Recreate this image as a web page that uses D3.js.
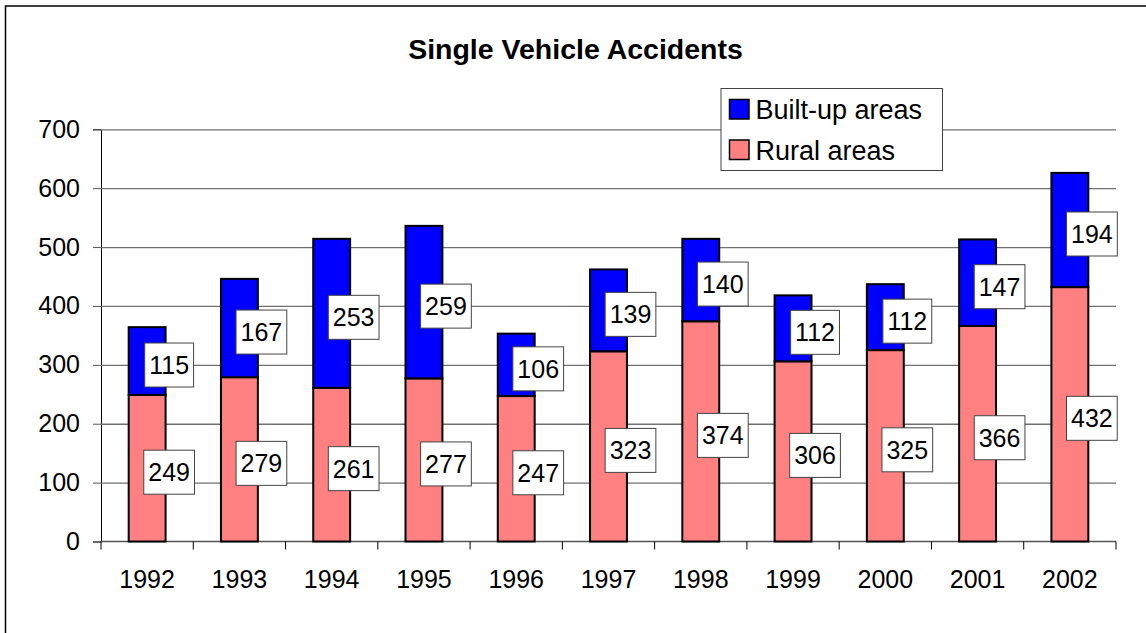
<!DOCTYPE html>
<html>
<head>
<meta charset="utf-8">
<script src="https://cdn.jsdelivr.net/npm/d3@7"></script>
<style>
  html, body { margin: 0; padding: 0; background: #fff; }
  svg { display: block; font-family: "Liberation Sans", Arial, sans-serif; }
</style>
</head>
<body>
<svg id="chart" width="1146" height="633"></svg>
<script>
const years = ["1992", "1993", "1994", "1995", "1996", "1997", "1998", "1999", "2000", "2001", "2002"];
const rural = [249, 279, 261, 277, 247, 323, 374, 306, 325, 366, 432];
const builtUp = [115, 167, 253, 259, 106, 139, 140, 112, 112, 147, 194];
const yTicks = [0, 100, 200, 300, 400, 500, 600, 700];

const seriesNames = ["Rural areas", "Built-up areas"];
const colors = { "Rural areas": "#ff8080", "Built-up areas": "#0000ff" };

const svg = d3.select("#chart");

// outer frame, runs off the right and bottom edges like the source
svg.append("rect")
  .attr("x", 5.5).attr("y", 6)
  .attr("width", 2000).attr("height", 2000)
  .attr("fill", "#fff").attr("stroke", "#000").attr("stroke-width", 1.5);

const plot = { left: 101, right: 1116, top: 129.3, bottom: 541.5 };

const x = d3.scaleBand().domain(years).range([plot.left, plot.right]).paddingInner(0).paddingOuter(0);
const y = d3.scaleLinear().domain([0, 700]).range([plot.bottom, plot.top]);

const rows = years.map((yr, i) => ({ year: yr, "Rural areas": rural[i], "Built-up areas": builtUp[i] }));
const stacked = d3.stack().keys(seriesNames)(rows);

// gridlines + y axis
const yAxis = d3.axisLeft(y).tickValues(yTicks).tickSize(8).tickPadding(13).tickFormat(d3.format("d"));
const gy = svg.append("g").attr("transform", `translate(${plot.left},0)`).call(yAxis);
gy.select(".domain").attr("stroke", "#000").attr("stroke-width", 1);
gy.selectAll(".tick line").attr("stroke", "#555");
gy.selectAll(".tick text").attr("font-size", 25).attr("fill", "#000")
  .attr("font-family", "Liberation Sans, Arial, sans-serif");

svg.append("g").selectAll("line").data(yTicks.filter((d) => d > 0)).join("line")
  .attr("x1", plot.left).attr("x2", plot.right)
  .attr("y1", (d) => y(d) + 0.5).attr("y2", (d) => y(d) + 0.5)
  .attr("stroke", "#707070").attr("stroke-width", 1.3);

// x axis with ticks at band edges
const gx = svg.append("g").attr("transform", `translate(0,${plot.bottom})`);
gx.append("line").attr("x1", plot.left).attr("x2", plot.right).attr("stroke", "#555").attr("stroke-width", 1.3);
const edges = years.map((d) => x(d)).concat([plot.right]);
gx.selectAll("line.edge").data(edges).join("line").attr("class", "edge")
  .attr("x1", (d) => d).attr("x2", (d) => d).attr("y1", 0).attr("y2", 8)
  .attr("stroke", "#000").attr("stroke-width", 1);
gx.selectAll("text").data(years).join("text")
  .attr("x", (d) => x(d) + x.bandwidth() / 2).attr("y", 46)
  .attr("text-anchor", "middle").attr("font-size", 25).text((d) => d);

// bars
const barW = x.bandwidth() * 0.4;
const barX = (yr) => x(yr) + (x.bandwidth() - barW) / 2;
const layers = svg.append("g").selectAll("g").data(stacked).join("g")
  .attr("fill", (s) => colors[s.key]);
layers.selectAll("rect").data((s) => s).join("rect")
  .attr("x", (d) => barX(d.data.year))
  .attr("y", (d) => y(d[1]))
  .attr("width", barW)
  .attr("height", (d) => y(d[0]) - y(d[1]))
  .attr("stroke", "#000").attr("stroke-width", 2);

// data labels in white boxes
const labels = svg.append("g");
stacked.forEach((s) => {
  s.forEach((d) => {
    const cx = x(d.data.year) + x.bandwidth() / 2 + 22;
    const cy = y((d[0] + d[1]) / 2) + 4;
    const g = labels.append("g");
    const t = g.append("text").attr("x", cx).attr("y", cy).attr("dy", "0.36em")
      .attr("text-anchor", "middle").attr("font-size", 25).text(d[1] - d[0]);
    const bb = t.node().getBBox();
    g.insert("rect", "text")
      .attr("x", bb.x - 4.5).attr("y", cy - 22)
      .attr("width", bb.width + 9).attr("height", 44)
      .attr("fill", "#fff").attr("stroke", "#444").attr("stroke-width", 1);
  });
});

// title
svg.append("text").attr("x", 575.5).attr("y", 58.5).attr("text-anchor", "middle")
  .attr("font-size", 28.5).attr("font-weight", "bold").text("Single Vehicle Accidents");

// legend
const legend = svg.append("g");
legend.append("rect").attr("x", 721).attr("y", 88.5).attr("width", 221.5).attr("height", 82)
  .attr("fill", "#fff").attr("stroke", "#444").attr("stroke-width", 1);
const legendItems = ["Built-up areas", "Rural areas"];
legendItems.forEach((name, i) => {
  const gy0 = 99.5 + i * 40.5;
  legend.append("rect").attr("x", 729.5).attr("y", gy0).attr("width", 19.5).attr("height", 19.5)
    .attr("fill", colors[name]).attr("stroke", "#000").attr("stroke-width", 1.5);
  legend.append("text").attr("x", 755.5).attr("y", gy0 + 19.5).attr("font-size", 27).text(name);
});
</script>
</body>
</html>
